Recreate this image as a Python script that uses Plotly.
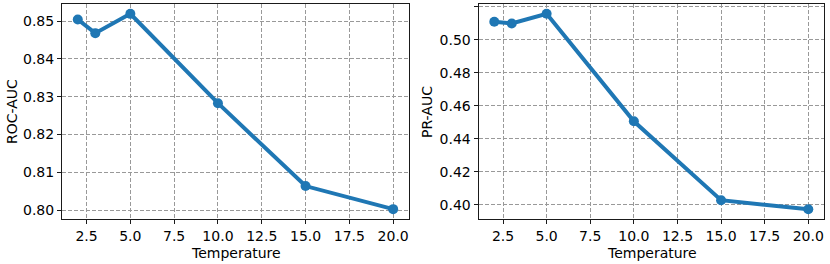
import plotly.graph_objects as go

temperature = [2, 3, 5, 10, 15, 20]
roc_auc = [0.8504, 0.8468, 0.8519, 0.8283, 0.8064, 0.8003]
pr_auc = [0.5109, 0.5099, 0.5158, 0.4506, 0.4028, 0.3973]
x_ticks = [2.5, 5.0, 7.5, 10.0, 12.5, 15.0, 17.5, 20.0]
roc_ticks = [0.80, 0.81, 0.82, 0.83, 0.84, 0.85]
pr_ticks = [0.40, 0.42, 0.44, 0.46, 0.48, 0.50, 0.52]

blue = "#1f77b4"
font = dict(family="DejaVu Sans", size=14, color="#000000")

fig = go.Figure()
fig.add_trace(go.Scatter(x=temperature, y=roc_auc, mode="lines+markers",
                         line=dict(color=blue, width=4), marker=dict(color=blue, size=10),
                         xaxis="x", yaxis="y", showlegend=False))
fig.add_trace(go.Scatter(x=temperature, y=pr_auc, mode="lines+markers",
                         line=dict(color=blue, width=4), marker=dict(color=blue, size=10),
                         xaxis="x2", yaxis="y2", showlegend=False))

common_axis = dict(showline=True, linecolor="#1a1a1a", linewidth=1, mirror=True,
                   ticks="outside", ticklen=4, tickcolor="#1a1a1a", tickwidth=1,
                   showgrid=True, gridcolor="#999999", gridwidth=1, griddash="4px,2px",
                   zeroline=False, tickfont=font, automargin=False)

L, R, T, B = 62, 6, 4, 45
W, H = 830, 264
pw = W - L - R
ph = H - T - B

fig.update_layout(
    width=W, height=H,
    margin=dict(l=L, r=R, t=T, b=B),
    paper_bgcolor="white", plot_bgcolor="white",
    font=font,
    xaxis=dict(domain=[0, 0.4553], range=[1.1, 20.9], tickvals=x_ticks, tickformat=".1f",
               anchor="y", **common_axis),
    yaxis=dict(range=[0.7977, 0.8545], tickvals=roc_ticks, tickformat=".2f",
               anchor="x", **common_axis),
    xaxis2=dict(domain=[0.5467, 1.0], range=[1.1, 20.9], tickvals=x_ticks, tickformat=".1f",
                anchor="y2", **common_axis),
    yaxis2=dict(range=[0.3914, 0.5217], tickvals=pr_ticks, tickformat=".2f",
                anchor="x2", **common_axis),
)

def px_x(p):
    return (p - L) / pw

def px_y(p):
    return (H - B - p) / ph

ann = []
for cx, txt in [((62 + 409) / 2, "Temperature"), ((479 + 824) / 2, "Temperature")]:
    ann.append(dict(text=txt, x=px_x(cx), y=px_y(253), xref="paper", yref="paper",
                    xanchor="center", yanchor="middle", showarrow=False, font=font))
for cx, txt in [(12, "ROC-AUC"), (427, "PR-AUC")]:
    ann.append(dict(text=txt, x=px_x(cx), y=px_y(112), xref="paper", yref="paper",
                    xanchor="center", yanchor="middle", showarrow=False, textangle=-90, font=font))
fig.update_layout(annotations=ann)

fig.write_html("out.html", config={"displayModeBar": False},
               post_script="document.body.style.margin='0';document.body.style.overflow='hidden';")
